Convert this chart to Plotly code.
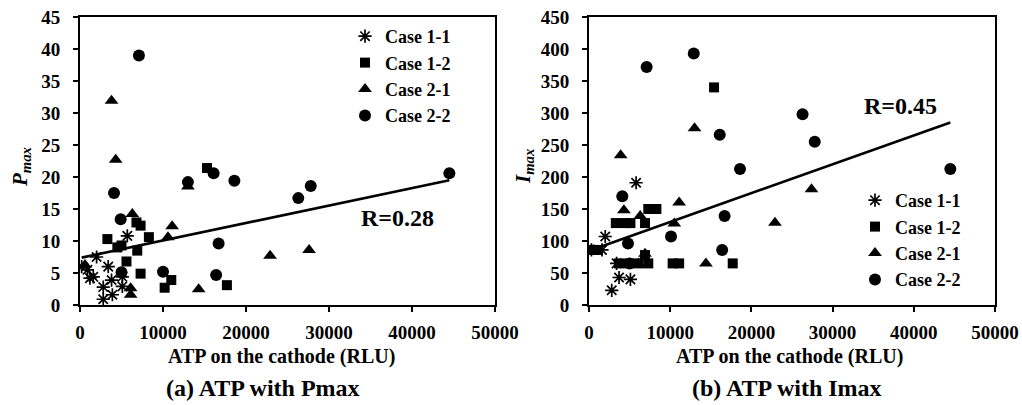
import plotly.graph_objects as go

# ---------------- data: panel (a) ATP vs Pmax ----------------
case11_x_a = [200, 900, 1200, 1600, 2000, 2800, 2800, 3400, 3800, 3900, 5100, 5100, 5700]
case11_y_a = [6.0, 5.5, 4.2, 4.4, 7.5, 2.8, 0.9, 6.0, 3.9, 1.6, 2.9, 4.4, 10.8]
case12_x_a = [3300, 4500, 5000, 5600, 6800, 7300, 6900, 7300, 8300, 10200, 11000, 15300, 17700]
case12_y_a = [10.3, 9.0, 9.3, 6.8, 12.9, 12.4, 8.5, 4.9, 10.6, 2.7, 3.9, 21.4, 3.1]
case21_x_a = [600, 3800, 4300, 6100, 6100, 6300, 10600, 11100, 13000, 14300, 22900, 27600]
case21_y_a = [6.25, 31.9, 22.7, 2.6, 1.6, 14.2, 10.6, 12.3, 18.5, 2.45, 7.7, 8.6]
case22_x_a = [4100, 4900, 5000, 7100, 10000, 13000, 16100, 16700, 16400, 18600, 26300, 27800, 44500]
case22_y_a = [17.5, 13.4, 5.1, 39.0, 5.2, 19.2, 20.6, 9.6, 4.7, 19.4, 16.7, 18.6, 20.6]
trend_a_intercept = 7.35
trend_a_slope = 0.000273
r_label_a = "R=0.28"

# ---------------- data: panel (b) ATP vs Imax ----------------
case11_x_b = [300, 1600, 2000, 3400, 3700, 5100, 2800, 5800]
case11_y_b = [86, 86, 107, 65, 43, 40, 23, 191]
case12_x_b = [500, 1100, 3300, 4400, 5100, 6900, 7300, 8300, 3700, 4900, 6100, 7300, 6900, 10300, 11100, 15400, 17700]
case12_y_b = [86, 86, 128, 128, 128, 128, 150, 150, 65, 65, 65, 65, 78, 65, 65, 340, 65]
case21_x_b = [600, 3900, 4300, 6100, 6900, 6300, 10500, 11100, 13000, 14400, 22900, 27400]
case21_y_b = [86, 234, 148, 65, 80, 139, 127.5, 160, 276, 65, 128.6, 180.7]
case22_x_b = [4100, 4800, 5000, 7100, 10100, 12900, 16100, 16700, 16400, 18600, 26300, 27800, 44500]
case22_y_b = [170, 96, 65, 372, 107, 393, 266, 139, 86, 212.5, 298, 255, 212.5]
trend_b_intercept = 84.6
trend_b_slope = 0.00451
r_label_b = "R=0.45"

series_names = ["Case 1-1", "Case 1-2", "Case 2-1", "Case 2-2"]
x_ticks = [0, 10000, 20000, 30000, 40000, 50000]
y_ticks_a = [0, 5, 10, 15, 20, 25, 30, 35, 40, 45]
y_ticks_b = [0, 50, 100, 150, 200, 250, 300, 350, 400, 450]
x_title = "ATP on the cathode (RLU)"
caption_a = "(a) ATP with Pmax"
caption_b = "(b) ATP with Imax"

# ---------------- layout helpers ----------------
W, H = 1022, 405
OFF = 0  # page body margin is removed below, so the figure sits at (0, 0)
def px_x(p):
    return (p - OFF) / W
def px_y(p):
    return 1 - (p - OFF) / H

FONT = "Liberation Serif"
BLACK = "black"

symbols = ["asterisk-open", "square", "triangle-up", "circle"]
sizes = [11, 10, 12, 12]

fig = go.Figure()

def add_panel(xs_list, ys_list, intercept, slope, xa, ya, legend_name):
    all_x = [v for xs in xs_list for v in xs]
    x0, x1 = min(all_x), max(all_x)
    fig.add_trace(go.Scatter(
        x=[x0, x1], y=[intercept + slope * x0, intercept + slope * x1],
        mode="lines", line=dict(color=BLACK, width=2.6),
        showlegend=False, hoverinfo="skip", xaxis=xa, yaxis=ya))
    for name, xs, ys, sym, sz in zip(series_names, xs_list, ys_list, symbols, sizes):
        marker = dict(symbol=sym, size=sz, color=BLACK)
        if sym == "asterisk-open":
            marker["line"] = dict(color=BLACK, width=1.7)
        fig.add_trace(go.Scatter(
            x=xs, y=ys, mode="markers", name=name, marker=marker,
            xaxis=xa, yaxis=ya, legend=legend_name))

add_panel([case11_x_a, case12_x_a, case21_x_a, case22_x_a],
          [case11_y_a, case12_y_a, case21_y_a, case22_y_a],
          trend_a_intercept, trend_a_slope, "x", "y", "legend")
add_panel([case11_x_b, case12_x_b, case21_x_b, case22_x_b],
          [case11_y_b, case12_y_b, case21_y_b, case22_y_b],
          trend_b_intercept, trend_b_slope, "x2", "y2", "legend2")

tickfont = dict(family=FONT, size=19, color=BLACK, weight="bold")
ydom = [px_y(305), px_y(17)]
dom_a = [px_x(80), px_x(495)]
dom_b = [px_x(589), px_x(995)]

def xaxis(domain, anchor):
    return dict(domain=domain, anchor=anchor, range=[0, 50000], tickvals=x_ticks,
                ticktext=[str(v) for v in x_ticks],
                ticks="outside", ticklen=5, tickwidth=1.5, tickcolor=BLACK,
                showline=True, linewidth=2, linecolor=BLACK, mirror=True,
                showgrid=False, zeroline=False, tickfont=tickfont,
                ticklabelstandoff=4, ticklabeloverflow="allow", automargin=False)

def yaxis(anchor, rng, vals):
    return dict(domain=ydom, anchor=anchor, range=rng, tickvals=vals,
                ticktext=[str(v) for v in vals],
                ticks="outside", ticklen=5, tickwidth=1.5, tickcolor=BLACK,
                showline=True, linewidth=2, linecolor=BLACK, mirror=True,
                showgrid=False, zeroline=False, tickfont=tickfont,
                ticklabelstandoff=9, ticklabeloverflow="allow", automargin=False)

def overlay_x(base, anchor, vals):
    return dict(overlaying=base, anchor=anchor, side="bottom", range=[0, 50000],
                tickvals=vals, ticks="inside", ticklen=5, tickwidth=1.5,
                tickcolor=BLACK, showticklabels=False, showline=False,
                showgrid=False, zeroline=False, automargin=False)

def overlay_y(base, anchor, rng, vals):
    return dict(overlaying=base, anchor=anchor, side="left", range=rng,
                tickvals=vals, ticks="inside", ticklen=5, tickwidth=1.5,
                tickcolor=BLACK, showticklabels=False, showline=False,
                showgrid=False, zeroline=False, automargin=False)

legend_font = dict(family=FONT, size=18, color=BLACK, weight="bold")

def ann(text, cx, cy, size, bold=True, angle=0):
    f = dict(family=FONT, size=size, color=BLACK)
    if bold:
        f["weight"] = "bold"
    return dict(text=text, x=px_x(cx), y=px_y(cy), xref="paper", yref="paper",
                xanchor="center", yanchor="middle", showarrow=False,
                textangle=angle, font=f)

annotations = [
    ann(x_title, 281, 356, 20),
    ann(x_title, 789, 356, 20),
    ann(caption_a, 263, 388, 24),
    ann(caption_b, 787, 388, 24),
    ann("<b><i>P</i><sub><i>max</i></sub></b>", 21, 167, 21, bold=False, angle=-90),
    ann("<b><i>I</i><sub><i>max</i></sub></b>", 524, 167, 21, bold=False, angle=-90),
    ann(r_label_a, 397, 218, 24),
    ann(r_label_b, 900, 106, 24),
]

fig.update_layout(
    width=W, height=H, autosize=False,
    margin=dict(l=0, r=0, t=0, b=0, pad=0, autoexpand=False),
    paper_bgcolor="white", plot_bgcolor="white",
    xaxis=xaxis(dom_a, "y"),
    yaxis=yaxis("x", [0, 45], y_ticks_a),
    xaxis2=xaxis(dom_b, "y2"),
    yaxis2=yaxis("x2", [0, 450], y_ticks_b),
    xaxis3=overlay_x("x", "y", x_ticks),
    yaxis3=overlay_y("y", "x", [0, 45], y_ticks_a),
    xaxis4=overlay_x("x2", "y2", x_ticks),
    yaxis4=overlay_y("y2", "x2", [0, 450], y_ticks_b),
    legend=dict(x=px_x(345), y=px_y(76), xanchor="left", yanchor="middle",
                font=legend_font, bgcolor="rgba(0,0,0,0)", itemwidth=30,
                tracegroupgap=0),
    legend2=dict(x=px_x(855), y=px_y(240), xanchor="left", yanchor="middle",
                 font=legend_font, bgcolor="rgba(0,0,0,0)", itemwidth=30,
                 tracegroupgap=0),
    annotations=annotations,
    showlegend=True,
)

fig.write_html(
    "out.html",
    config={"displayModeBar": False},
    post_script="document.body.style.margin='0';document.body.style.overflow='hidden';",
)
